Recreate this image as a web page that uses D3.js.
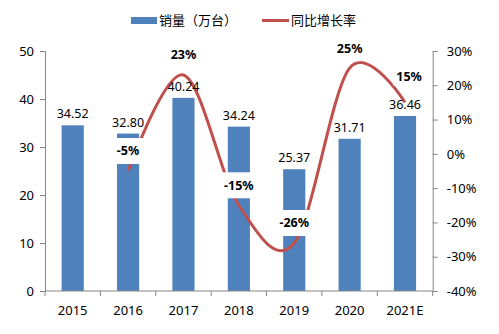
<!DOCTYPE html>
<meta charset="utf-8">
<script src="https://d3js.org/d3.v7.min.js"></script>
<style>
  body { margin: 0; background: #fff; }
  text { font-family: "Noto Sans", "Noto Sans CJK SC", sans-serif; fill: #000; }
</style>
<div id="chart"></div>
<script>
// chart data
var years = ["2015", "2016", "2017", "2018", "2019", "2020", "2021E"];
var sales = [34.52, 32.80, 40.24, 34.24, 25.37, 31.71, 36.46];
var growth = [null, -5, 23, -15, -26, 25, 15];
var growthLabels = ["", "-5%", "23%", "-15%", "-26%", "25%", "15%"];
var leftTicks = [0, 10, 20, 30, 40, 50];
var rightTicks = [-40, -30, -20, -10, 0, 10, 20, 30];

var W = 499, H = 334;
var plotLeft = 45, plotRight = 432.7, plotTop = 51, plotBottom = 291;
var barColor = "#4F81BD", lineColor = "#C0504D", axisColor = "#868686";

var svg = d3.select("#chart").append("svg")
  .attr("width", W).attr("height", H);

var x = d3.scaleBand().domain(years).range([plotLeft, plotRight])
  .paddingInner(0.6).paddingOuter(0.3);
var y = d3.scaleLinear().domain([0, 50]).range([plotBottom, plotTop]);
var y2 = d3.scaleLinear().domain([-40, 30]).range([plotBottom, plotTop]);

// bars
svg.append("g").selectAll("rect")
  .data(years)
  .enter().append("rect")
    .attr("x", function(d) { return x(d); })
    .attr("width", x.bandwidth())
    .attr("y", function(d, i) { return y(sales[i]); })
    .attr("height", function(d, i) { return plotBottom - y(sales[i]); })
    .attr("fill", barColor);

// growth line (smoothed like Excel)
var pts = years.map(function(d, i) { return [x(d) + x.bandwidth() / 2, growth[i]]; })
  .filter(function(p) { return p[1] !== null; });
svg.append("path")
  .datum(pts)
  .attr("fill", "none")
  .attr("stroke", lineColor)
  .attr("stroke-width", 3)
  .attr("d", d3.line()
    .x(function(p) { return p[0]; })
    .y(function(p) { return y2(p[1]); })
    .curve(d3.curveCardinal.tension(0)));

// left axis
var ax = svg.append("g").attr("transform", "translate(" + plotLeft + ",0)")
  .call(d3.axisLeft(y).tickValues(leftTicks).tickSize(5).tickPadding(6));
// right axis
var ax2 = svg.append("g").attr("transform", "translate(" + plotRight + ",0)")
  .call(d3.axisRight(y2).tickValues(rightTicks).tickSize(5).tickPadding(9)
    .tickFormat(function(d) { return d + "%"; }));
[ax, ax2].forEach(function(a) {
  a.select(".domain").attr("stroke", axisColor);
  a.selectAll(".tick line").attr("stroke", axisColor);
  a.selectAll("text").style("font-size", "13px");
});

// bottom axis, ticks on band edges
var xa = svg.append("g");
xa.append("line").attr("x1", plotLeft).attr("x2", plotRight)
  .attr("y1", plotBottom).attr("y2", plotBottom).attr("stroke", axisColor);
var edges = years.map(function(d) { return x(d) - x.step() * 0.3; }).concat([plotRight]);
xa.selectAll(".edge").data(edges).enter().append("line")
  .attr("x1", function(d) { return d; }).attr("x2", function(d) { return d; })
  .attr("y1", plotBottom).attr("y2", plotBottom + 5).attr("stroke", axisColor);
xa.selectAll("text").data(years).enter().append("text")
  .attr("x", function(d) { return x(d) + x.bandwidth() / 2; })
  .attr("y", 315)
  .attr("text-anchor", "middle")
  .style("font-size", "13px")
  .text(function(d) { return d; });

// value labels on bars
svg.append("g").selectAll("text")
  .data(years).enter().append("text")
    .attr("x", function(d) { return x(d) + x.bandwidth() / 2; })
    .attr("y", function(d, i) { return y(sales[i]) - 7; })
    .attr("text-anchor", "middle")
    .style("font-size", "12.5px")
    .text(function(d, i) { return sales[i].toFixed(2); });

// growth labels with white boxes
var gl = svg.append("g").selectAll("g")
  .data(years.filter(function(d, i) { return growth[i] !== null; }))
  .enter().append("g")
    .attr("transform", function(d) {
      var i = years.indexOf(d);
      var last = i === years.length - 1;
      var off = last ? 26 : 20;
      var dx = last ? 4 : 0;
      return "translate(" + (x(d) + x.bandwidth() / 2 + dx) + "," + (y2(growth[i]) - off) + ")";
    });
gl.append("rect")
  .attr("x", -16).attr("y", function(d) { return d === "2021E" ? -9 : -13; })
  .attr("width", 32).attr("height", function(d) { return d === "2021E" ? 18 : 26; })
  .attr("fill", "#fff");
gl.append("text")
  .attr("text-anchor", "middle")
  .attr("dy", "0.35em")
  .style("font-size", "12.5px")
  .style("font-weight", "bold")
  .text(function(d) { return growthLabels[years.indexOf(d)]; });

// legend
var lg = svg.append("g");
lg.append("rect").attr("x", 131).attr("y", 17).attr("width", 26).attr("height", 7).attr("fill", barColor);
lg.append("text").attr("x", 159).attr("y", 25).style("font-size", "13px").text("销量（万台）");
lg.append("line").attr("x1", 262).attr("x2", 289).attr("y1", 20.5).attr("y2", 20.5)
  .attr("stroke", lineColor).attr("stroke-width", 3);
lg.append("text").attr("x", 291).attr("y", 25).style("font-size", "13px").text("同比增长率");
</script>
